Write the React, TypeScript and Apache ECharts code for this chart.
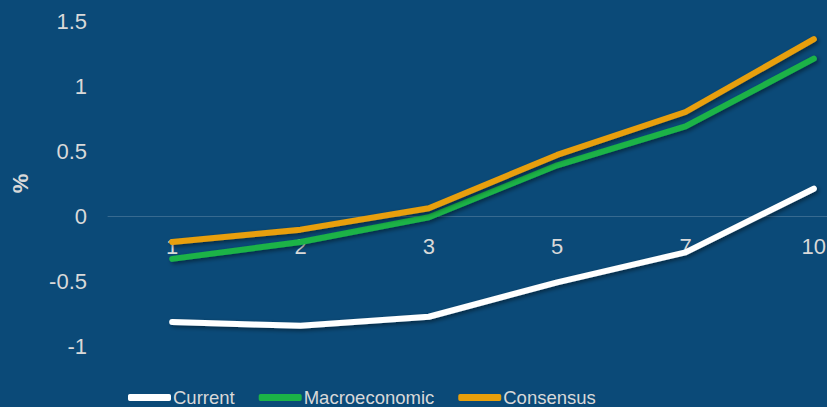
import React, { useEffect, useRef } from "react";
import * as echarts from "echarts";

const categories = ["1", "2", "3", "5", "7", "10"];
const currentValues = [-0.815, -0.845, -0.775, -0.51, -0.28, 0.21];
const macroValues = [-0.33, -0.2, -0.01, 0.39, 0.69, 1.21];
const consensusValues = [-0.2, -0.105, 0.06, 0.47, 0.8, 1.36];
const seriesNames = ["Current", "Macroeconomic", "Consensus"];
const colors = ["#ffffff", "#1bb347", "#e89f0b"];

const FONT = "'Liberation Sans', Arial, sans-serif";
const TEXT = "#d9d9d9";

export default function App() {
  const ref = useRef<HTMLDivElement>(null);
  useEffect(() => {
    if (!ref.current) return;
    const chart = echarts.init(ref.current, null, { renderer: "svg" });
    const values = [currentValues, macroValues, consensusValues];
    chart.setOption({
      animation: false,
      backgroundColor: "#0b4a78",
      grid: { left: 108, top: 21, width: 770, height: 325, containLabel: false, outerBoundsMode: "none" },
      legend: {
        left: 123,
        top: 383,
        itemWidth: 43,
        itemHeight: 7,
        itemGap: 24,
        icon: "roundRect",
        textStyle: { color: TEXT, fontSize: 18.5, fontFamily: FONT, padding: [0, 0, 0, -3] },
        data: seriesNames,
      },
      xAxis: {
        type: "category",
        data: categories,
        boundaryGap: true,
        position: "bottom",
        offset: -130,
        axisLine: { show: true, onZero: false, lineStyle: { color: "rgba(255,255,255,0.18)", width: 1 } },
        axisTick: { show: false },
        axisLabel: { color: TEXT, fontSize: 22, fontFamily: FONT, margin: 19 },
        splitLine: { show: false },
      },
      yAxis: {
        type: "value",
        min: -1,
        max: 1.5,
        interval: 0.5,
        name: "%",
        nameLocation: "middle",
        nameRotate: 90,
        nameGap: 71,
        nameTextStyle: { color: TEXT, fontSize: 22, fontWeight: "bold", fontFamily: FONT, padding: [0, 0, 6, 0] },
        axisLine: { show: false },
        axisTick: { show: false },
        splitLine: { show: false },
        axisLabel: { color: TEXT, fontSize: 22, fontFamily: FONT, margin: 21 },
      },
      series: seriesNames.map((name, i) => ({
        name,
        type: "line",
        data: values[i],
        symbol: "none",
        color: colors[i],
        lineStyle: {
          width: 6,
          color: colors[i],
          cap: "round",
          join: "round",
          shadowColor: "rgba(0,0,0,0.45)",
          shadowBlur: 4,
          shadowOffsetX: 2,
          shadowOffsetY: 2,
        },
      })),
    });
    return () => chart.dispose();
  }, []);
  return (
    <div
      ref={ref}
      style={{ position: "fixed", left: 0, top: 0, width: 827, height: 407 }}
    />
  );
}
